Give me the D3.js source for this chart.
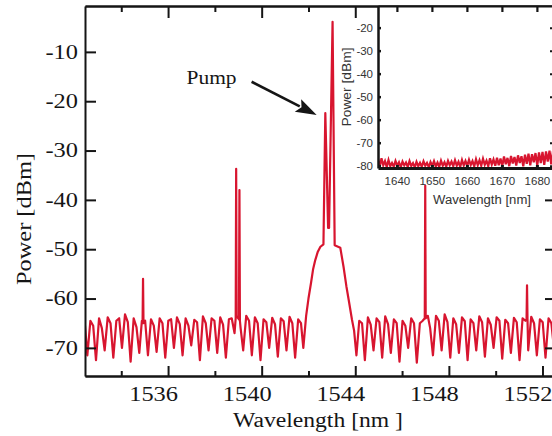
<!DOCTYPE html>
<html><head><meta charset="utf-8">
<script src="https://cdn.jsdelivr.net/npm/d3@7"></script>
<style>html,body{margin:0;padding:0;background:#fff;} svg{display:block;}</style>
</head><body><svg id="c" width="552" height="436"></svg>
<script>
// ---- data ----
const mainTrace = [
[1532.45,-65.5],[1532.55,-71.5],[1532.68,-64.5],[1532.80,-65.5],[1532.92,-72.5],[1533.05,-64.0],[1533.17,-66.0],[1533.29,-70.5],
[1533.42,-63.8],[1533.54,-65.0],[1533.66,-72.0],[1533.79,-64.5],[1533.91,-64.0],[1534.03,-70.0],[1534.16,-63.2],[1534.28,-64.8],
[1534.40,-72.8],[1534.53,-64.0],[1534.65,-65.8],[1534.77,-71.0],[1534.88,-64.5],[1534.91,-65.0],[1534.93,-56.0],[1534.95,-65.0],
[1535.02,-64.5],[1535.14,-71.5],[1535.27,-64.2],[1535.39,-65.5],[1535.51,-70.8],[1535.64,-64.0],[1535.76,-65.0],[1535.88,-72.0],
[1536.01,-64.5],[1536.13,-64.2],[1536.25,-70.0],[1536.38,-63.8],[1536.50,-65.2],[1536.62,-71.5],[1536.75,-64.0],[1536.87,-65.5],
[1536.99,-69.5],[1537.12,-64.3],[1537.24,-64.8],[1537.36,-72.5],[1537.49,-63.6],[1537.61,-65.0],[1537.73,-70.5],[1537.86,-64.0],
[1537.98,-64.5],[1538.10,-71.0],[1538.23,-63.8],[1538.35,-65.3],[1538.47,-72.0],[1538.60,-64.2],[1538.72,-64.0],[1538.84,-67.0],
[1538.89,-64.0],[1538.91,-33.7],[1538.93,-63.5],[1539.00,-64.0],[1539.03,-64.2],[1539.05,-38.0],[1539.07,-64.5],[1539.10,-66.0],
[1539.21,-70.5],[1539.34,-63.5],[1539.46,-64.5],[1539.58,-71.5],[1539.71,-63.8],[1539.83,-65.0],[1539.95,-72.5],[1540.08,-64.2],
[1540.20,-64.8],[1540.32,-70.0],[1540.45,-63.9],[1540.57,-65.2],[1540.69,-71.8],[1540.82,-64.0],[1540.94,-64.6],[1541.06,-70.5],
[1541.19,-63.7],[1541.31,-65.0],[1541.43,-72.0],[1541.56,-64.2],[1541.68,-65.0],[1541.78,-70.0],[1541.90,-63.5],[1542.00,-60.0],
[1542.11,-56.8],[1542.20,-54.0],[1542.29,-52.2],[1542.40,-50.5],[1542.51,-49.5],[1542.64,-49.0],[1542.72,-22.4],[1542.84,-45.7],
[1542.88,-45.7],[1543.03,-3.9],[1543.12,-49.2],[1543.36,-49.7],[1543.50,-53.6],[1543.62,-57.5],[1543.72,-60.3],[1543.86,-64.3],
[1543.95,-66.5],[1544.05,-71.5],[1544.17,-64.5],[1544.29,-65.0],[1544.41,-72.5],[1544.54,-63.8],[1544.66,-65.3],[1544.78,-70.5],
[1544.91,-64.0],[1545.03,-64.8],[1545.15,-72.0],[1545.28,-63.6],[1545.40,-65.2],[1545.52,-71.0],[1545.65,-64.2],[1545.77,-65.0],
[1545.89,-72.8],[1546.02,-64.5],[1546.14,-65.5],[1546.26,-70.0],[1546.39,-64.0],[1546.51,-65.0],[1546.63,-73.0],[1546.76,-65.0],
[1546.88,-64.5],[1546.97,-64.0],[1546.99,-37.1],[1547.01,-64.0],[1547.10,-63.5],[1547.20,-66.0],[1547.32,-71.5],[1547.45,-63.5],
[1547.57,-64.5],[1547.69,-70.5],[1547.82,-63.2],[1547.94,-64.8],[1548.06,-72.0],[1548.19,-64.0],[1548.31,-65.2],[1548.43,-71.0],
[1548.56,-63.8],[1548.68,-64.6],[1548.80,-72.5],[1548.93,-64.2],[1549.05,-65.0],[1549.17,-70.5],[1549.30,-63.6],[1549.42,-64.8],
[1549.54,-71.8],[1549.67,-64.0],[1549.79,-65.3],[1549.91,-70.0],[1550.04,-63.8],[1550.16,-64.5],[1550.28,-72.2],[1550.41,-64.3],
[1550.53,-65.0],[1550.65,-71.0],[1550.78,-63.9],[1550.90,-64.8],[1551.02,-72.5],[1551.15,-64.0],[1551.27,-64.5],[1551.32,-64.2],
[1551.34,-57.3],[1551.36,-64.2],[1551.39,-70.5],[1551.52,-63.7],[1551.64,-65.0],[1551.76,-71.5],[1551.89,-64.2],[1552.01,-64.8],
[1552.13,-72.0],[1552.26,-64.0],[1552.38,-65.0],[1552.50,-70.5]
];
const insetTrace = [
[1634.6,-77.0],[1635.1,-80.5],[1635.6,-76.8],[1636.1,-79.8],[1636.6,-78.0],[1637.1,-80.6],[1637.6,-77.5],[1638.1,-80.2],[1638.6,-78.8],
[1639.1,-80.4],[1639.6,-77.9],[1640.1,-80.0],[1640.6,-78.5],[1641.1,-80.6],[1641.6,-78.2],[1642.1,-79.9],[1642.6,-78.6],[1643.1,-80.5],
[1643.6,-78.0],[1644.1,-80.1],[1644.6,-78.9],[1645.1,-80.7],[1645.6,-78.3],[1646.1,-80.2],[1646.6,-78.7],[1647.1,-80.4],[1647.6,-78.1],
[1648.1,-80.0],[1648.6,-78.8],[1649.1,-80.6],[1649.6,-78.4],[1650.1,-80.1],[1650.6,-78.0],[1651.1,-80.3],[1651.6,-78.6],[1652.1,-80.5],
[1652.6,-77.8],[1653.1,-80.0],[1653.6,-78.5],[1654.1,-80.4],[1654.6,-77.9],[1655.1,-79.8],[1655.6,-78.2],[1656.1,-80.2],[1656.6,-77.6],
[1657.1,-80.0],[1657.6,-78.3],[1658.1,-80.5],[1658.6,-77.5],[1659.1,-79.9],[1659.6,-77.9],[1660.1,-80.1],[1660.6,-77.4],[1661.1,-79.7],
[1661.6,-78.0],[1662.1,-80.3],[1662.6,-77.2],[1663.1,-79.8],[1663.6,-77.6],[1664.1,-80.0],[1664.6,-77.0],[1665.1,-79.6],[1665.6,-77.8],
[1666.1,-80.2],[1666.6,-76.8],[1667.1,-79.5],[1667.6,-77.3],[1668.1,-80.0],[1668.6,-76.5],[1669.1,-79.8],[1669.6,-76.9],[1670.1,-80.1],
[1670.6,-76.0],[1671.1,-79.4],[1671.6,-76.6],[1672.1,-80.2],[1672.6,-75.8],[1673.1,-79.0],[1673.6,-76.2],[1674.1,-79.9],[1674.6,-75.5],
[1675.1,-78.8],[1675.6,-75.9],[1676.1,-80.3],[1676.6,-75.2],[1677.1,-79.2],[1677.6,-74.8],[1678.1,-79.8],[1678.6,-75.0],[1679.1,-78.5],
[1679.6,-74.5],[1680.1,-80.0],[1680.6,-74.2],[1681.1,-78.9],[1681.6,-74.0],[1682.1,-79.6],[1682.6,-73.8],[1683.1,-78.2],[1683.6,-73.5],
[1684.1,-79.4],[1684.6,-73.6]
];
const mainXTicks = [1536, 1540, 1544, 1548, 1552];
const mainXMinorTicks = [1534, 1538, 1542, 1546, 1550];
const mainYTicks = [-70, -60, -50, -40, -30, -20, -10];
const insetXTicks = [1640, 1650, 1660, 1670, 1680];
const insetYTicks = [-80, -70, -60, -50, -40, -30, -20];
const pumpLabel = "Pump";
const pumpLabelAt = [1536.79, -16.5];
const pumpArrowFrom = [1539.57, -16.05];
const pumpArrowTo = [1542.35, -22.8];

// ---- drawing ----
const svg = d3.select('#c');
const RED = '#d8152f';
const SERIF = '"Liberation Serif","Times New Roman",serif';
const SANS = '"Liberation Sans",Arial,sans-serif';
const INK = '#151515';

const x = d3.scaleLinear().domain([1532.45, 1552.45]).range([85, 553]);
const y = d3.scaleLinear().domain([-75.7, -0.7]).range([376, 6]);

function stretch(sel, f) {
  sel.each(function () {
    const L = this.getComputedTextLength();
    this.setAttribute('textLength', L * f);
    this.setAttribute('lengthAdjust', 'spacingAndGlyphs');
  });
}
function styleAxis(g, w) {
  g.select('.domain').attr('stroke', INK).attr('stroke-width', w);
  g.selectAll('.tick line').attr('stroke', INK).attr('stroke-width', w);
}

svg.append('rect').attr('width', 552).attr('height', 436).attr('fill', '#fff');
const defs = svg.append('defs');
defs.append('clipPath').attr('id', 'mclip').append('rect')
  .attr('x', x.range()[0]).attr('y', y.range()[1])
  .attr('width', x.range()[1] - x.range()[0]).attr('height', y.range()[0] - y.range()[1]);

svg.append('path').datum(mainTrace)
  .attr('clip-path', 'url(#mclip)')
  .attr('fill', 'none').attr('stroke', RED).attr('stroke-width', 2.2)
  .attr('stroke-linejoin', 'round')
  .attr('d', d3.line().x(d => x(d[0])).y(d => y(d[1])));

// main axes
const gB = svg.append('g').attr('transform', `translate(0,${y.range()[0]})`)
  .call(d3.axisBottom(x).tickValues(mainXTicks).tickSize(-10).tickSizeOuter(0).tickPadding(11).tickFormat(d => String(d)));
styleAxis(gB, 2);
gB.selectAll('text').attr('font-family', SERIF).attr('font-size', 20).attr('fill', INK).attr('dx', -15);
stretch(gB.selectAll('text'), 1.22);
styleAxis(svg.append('g').attr('transform', `translate(0,${y.range()[0]})`)
  .call(d3.axisBottom(x).tickValues(mainXMinorTicks).tickSize(-5).tickSizeOuter(0).tickFormat('')), 2);
styleAxis(svg.append('g').attr('transform', `translate(0,${y.range()[1]})`)
  .call(d3.axisTop(x).tickValues(mainXTicks).tickSize(-12).tickSizeOuter(0).tickFormat('')), 2);
styleAxis(svg.append('g').attr('transform', `translate(0,${y.range()[1]})`)
  .call(d3.axisTop(x).tickValues(mainXMinorTicks).tickSize(-6).tickSizeOuter(0).tickFormat('')), 2);
const gL = svg.append('g').attr('transform', `translate(${x.range()[0]},0)`)
  .call(d3.axisLeft(y).tickValues(mainYTicks).tickSize(-11).tickSizeOuter(0).tickPadding(7).tickFormat(d => String(d)));
styleAxis(gL, 2);
gL.selectAll('text').attr('font-family', SERIF).attr('font-size', 20).attr('fill', INK);
stretch(gL.selectAll('text'), 1.22);
styleAxis(svg.append('g').attr('transform', `translate(${x.range()[1]},0)`)
  .call(d3.axisRight(y).tickValues(mainYTicks).tickSize(-8).tickSizeOuter(0).tickFormat('')), 2);

// main axis titles
svg.append('text').attr('x', 318).attr('y', 427).attr('text-anchor', 'middle')
  .attr('font-family', SERIF).attr('font-size', 20).attr('fill', INK)
  .attr('textLength', 170).attr('lengthAdjust', 'spacingAndGlyphs')
  .text('Wavelength [nm ]');
svg.append('text').attr('transform', 'translate(31,219) rotate(-90)').attr('text-anchor', 'middle')
  .attr('font-family', SERIF).attr('font-size', 21).attr('fill', INK)
  .attr('textLength', 132).attr('lengthAdjust', 'spacingAndGlyphs')
  .text('Power [dBm]');

// pump annotation
svg.append('text').attr('x', x(pumpLabelAt[0])).attr('y', y(pumpLabelAt[1]))
  .attr('font-family', SERIF).attr('font-size', 19).attr('fill', INK)
  .attr('textLength', 50).attr('lengthAdjust', 'spacingAndGlyphs')
  .text(pumpLabel);
{
  const x0 = x(pumpArrowFrom[0]), y0 = y(pumpArrowFrom[1]);
  const x1 = x(pumpArrowTo[0]), y1 = y(pumpArrowTo[1]);
  const dx = x1 - x0, dy = y1 - y0, L = Math.hypot(dx, dy);
  const ux = dx / L, uy = dy / L, hl = 21, hw = 7;
  const bx = x1 - ux * hl, by = y1 - uy * hl;
  svg.append('line').attr('x1', x0).attr('y1', y0).attr('x2', bx + ux * 2).attr('y2', by + uy * 2)
    .attr('stroke', INK).attr('stroke-width', 2.6);
  svg.append('path').attr('fill', INK)
    .attr('d', `M${x1},${y1}L${bx - uy * hw},${by + ux * hw}L${bx + ux * 4},${by + uy * 4}L${bx + uy * hw},${by - ux * hw}Z`);
}

// ---- inset ----
const xi = d3.scaleLinear().domain([1634.6, 1684.6]).range([378, 553]);
const yi = d3.scaleLinear().domain([-81, -10.6]).range([168, 6]);
svg.append('rect').attr('x', xi.range()[0]).attr('y', yi.range()[1] + 1)
  .attr('width', xi.range()[1] - xi.range()[0]).attr('height', yi.range()[0] - yi.range()[1] - 1)
  .attr('fill', '#fff');
defs.append('clipPath').attr('id', 'iclip').append('rect')
  .attr('x', xi.range()[0]).attr('y', yi.range()[1])
  .attr('width', xi.range()[1] - xi.range()[0]).attr('height', yi.range()[0] - yi.range()[1]);
svg.append('path').datum(insetTrace)
  .attr('clip-path', 'url(#iclip)')
  .attr('fill', 'none').attr('stroke', RED).attr('stroke-width', 2.2)
  .attr('d', d3.line().x(d => xi(d[0])).y(d => yi(d[1])));

const iL = svg.append('g').attr('transform', `translate(${xi.range()[0]},0)`)
  .call(d3.axisLeft(yi).tickValues(insetYTicks).tickSize(-3).tickSizeOuter(0).tickPadding(5).tickFormat(d => String(d)));
styleAxis(iL, 2.5);
iL.selectAll('text').attr('font-family', SANS).attr('font-size', 11.5).attr('fill', '#333');
const iB = svg.append('g').attr('transform', `translate(0,${yi.range()[0]})`)
  .call(d3.axisBottom(xi).tickValues(insetXTicks).tickSize(-3).tickSizeOuter(0).tickPadding(9).tickFormat(d => String(d)));
styleAxis(iB, 3);
iB.selectAll('text').attr('font-family', SANS).attr('font-size', 11.5).attr('fill', '#333');
styleAxis(svg.append('g').attr('transform', `translate(0,${yi.range()[1]})`)
  .call(d3.axisTop(xi).tickValues(insetXTicks).tickSize(-6).tickSizeOuter(0).tickFormat('')), 2.2);
styleAxis(svg.append('g').attr('transform', `translate(${xi.range()[1]},0)`)
  .call(d3.axisRight(yi).tickValues(insetYTicks).tickSize(-3).tickSizeOuter(0).tickFormat('')), 2);
svg.append('text').attr('x', 482).attr('y', 204).attr('text-anchor', 'middle')
  .attr('font-family', SANS).attr('font-size', 12.5).attr('fill', '#333')
  .attr('textLength', 98).attr('lengthAdjust', 'spacingAndGlyphs')
  .text('Wavelength [nm]');
svg.append('text').attr('transform', 'translate(351,87) rotate(-90)').attr('text-anchor', 'middle')
  .attr('font-family', SANS).attr('font-size', 12.5).attr('fill', '#333')
  .attr('textLength', 79).attr('lengthAdjust', 'spacingAndGlyphs')
  .text('Power [dBm]');
</script></body></html>
